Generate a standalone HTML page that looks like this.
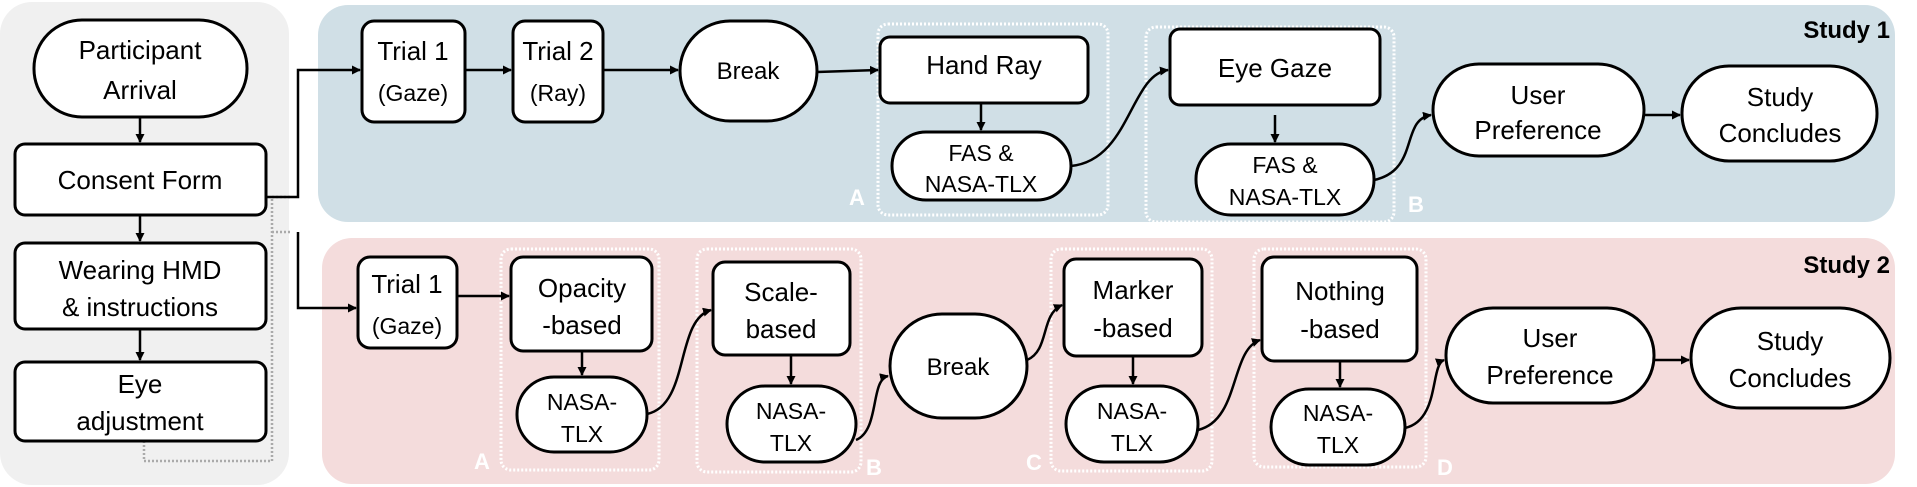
<!DOCTYPE html>
<html><head><meta charset="utf-8"><style>
html,body{margin:0;padding:0;background:#fff;}
svg{display:block;}
text{font-family:"Liberation Sans",sans-serif;fill:#000;}
</style></head><body>
<svg width="1917" height="487" viewBox="0 0 1917 487" xmlns="http://www.w3.org/2000/svg">
<defs>
<marker id="ah" markerWidth="9" markerHeight="9" refX="8" refY="4.5" orient="auto" markerUnits="userSpaceOnUse"><path d="M0,0 L9,4.5 L0,9 Z" fill="#000"/></marker>
</defs>
<rect x="0" y="2" width="289" height="483" rx="32" fill="#f0f0f0"/>
<rect x="318" y="5" width="1577" height="217" rx="30" fill="#d0dfe6"/>
<rect x="322" y="238" width="1573" height="246" rx="30" fill="#f4dcdc"/>
<text x="1890" y="38" text-anchor="end" font-size="24" font-weight="bold">Study 1</text>
<text x="1890" y="273" text-anchor="end" font-size="24" font-weight="bold">Study 2</text>

<g fill="none" stroke="#fff" stroke-width="3" stroke-dasharray="2,2">
<rect x="878" y="24" width="230" height="191" rx="10"/>
<rect x="1146" y="27" width="248" height="195" rx="10"/>
<rect x="501" y="249" width="158" height="221" rx="10"/>
<rect x="697" y="249" width="164" height="223" rx="10"/>
<rect x="1051" y="249" width="161" height="222" rx="10"/>
<rect x="1254" y="249" width="172" height="218" rx="10"/>
</g>
<g font-size="22" font-weight="bold">
<text x="849" y="205" style="fill:#fff">A</text>
<text x="1408" y="212" style="fill:#fff">B</text>
<text x="474" y="469" style="fill:#fff">A</text>
<text x="866" y="475" style="fill:#fff">B</text>
<text x="1026" y="470" style="fill:#fff">C</text>
<text x="1437" y="475" style="fill:#fff">D</text>
</g>

<g fill="none" stroke="#aaa" stroke-width="2.5" stroke-dasharray="2,2">
<path d="M144,441 V461 H272 V197 H290"/>
<path d="M272,232 H290"/>
</g>

<g fill="#fff" stroke="#000" stroke-width="3">
<rect x="34" y="20" width="213" height="97" rx="48"/>
<rect x="15" y="144" width="251" height="71" rx="10"/>
<rect x="15" y="243" width="251" height="86" rx="10"/>
<rect x="15" y="362" width="251" height="79" rx="10"/>

<rect x="362" y="21" width="103" height="101" rx="12"/>
<rect x="513" y="21" width="90" height="101" rx="12"/>
<rect x="680" y="21" width="137" height="100" rx="50"/>
<rect x="880" y="37" width="208" height="66" rx="10"/>
<rect x="892" y="132" width="179" height="68" rx="34"/>
<rect x="1170" y="29" width="210" height="76" rx="10"/>
<rect x="1196" y="144" width="178" height="71" rx="35"/>
<rect x="1433" y="64" width="211" height="92" rx="46"/>
<rect x="1682" y="66" width="195" height="95" rx="47"/>

<rect x="358" y="257" width="99" height="91" rx="12"/>
<rect x="511" y="257" width="141" height="94" rx="12"/>
<rect x="517" y="377" width="130" height="75" rx="37"/>
<rect x="713" y="262" width="137" height="93" rx="12"/>
<rect x="727" y="386" width="129" height="76" rx="38"/>
<rect x="890" y="314" width="137" height="104" rx="52"/>
<rect x="1064" y="259" width="138" height="97" rx="12"/>
<rect x="1066" y="386" width="132" height="76" rx="38"/>
<rect x="1262" y="257" width="155" height="104" rx="12"/>
<rect x="1271" y="389" width="134" height="76" rx="38"/>
<rect x="1446" y="308" width="208" height="95" rx="47"/>
<rect x="1691" y="308" width="199" height="100" rx="50"/>
</g>

<g font-size="26" text-anchor="middle">
<text x="140" y="59">Participant</text><text x="140" y="99">Arrival</text>
<text x="140" y="189">Consent Form</text>
<text x="140" y="279">Wearing HMD</text><text x="140" y="316">&amp; instructions</text>
<text x="140" y="393">Eye</text><text x="140" y="430">adjustment</text>

<text x="413" y="60">Trial 1</text><text x="413" y="101" font-size="23">(Gaze)</text>
<text x="558" y="60">Trial 2</text><text x="558" y="101" font-size="23">(Ray)</text>
<text x="748" y="79" font-size="24">Break</text>
<text x="984" y="74">Hand Ray</text>
<text x="981" y="161" font-size="23">FAS &amp;</text><text x="981" y="192" font-size="23">NASA-TLX</text>
<text x="1275" y="77">Eye Gaze</text>
<text x="1285" y="173" font-size="23">FAS &amp;</text><text x="1285" y="205" font-size="23">NASA-TLX</text>
<text x="1538" y="104">User</text><text x="1538" y="139">Preference</text>
<text x="1780" y="106">Study</text><text x="1780" y="142">Concludes</text>

<text x="407" y="293">Trial 1</text><text x="407" y="334" font-size="23">(Gaze)</text>
<text x="582" y="297">Opacity</text><text x="582" y="334">-based</text>
<text x="582" y="410" font-size="23">NASA-</text><text x="582" y="442" font-size="23">TLX</text>
<text x="781" y="301">Scale-</text><text x="781" y="338">based</text>
<text x="791" y="419" font-size="23">NASA-</text><text x="791" y="451" font-size="23">TLX</text>
<text x="958" y="375" font-size="24">Break</text>
<text x="1133" y="299">Marker</text><text x="1133" y="337">-based</text>
<text x="1132" y="419" font-size="23">NASA-</text><text x="1132" y="451" font-size="23">TLX</text>
<text x="1340" y="300">Nothing</text><text x="1340" y="338">-based</text>
<text x="1338" y="421" font-size="23">NASA-</text><text x="1338" y="453" font-size="23">TLX</text>
<text x="1550" y="347">User</text><text x="1550" y="384">Preference</text>
<text x="1790" y="350">Study</text><text x="1790" y="387">Concludes</text>
</g>

<g fill="none" stroke="#000" stroke-width="2.5" marker-end="url(#ah)">
<path d="M140,117 V142"/>
<path d="M140,215 V241"/>
<path d="M140,329 V360"/>
<path d="M266,197 H298 V70 H360"/>
<path d="M298,232 V308 H356"/>
<path d="M465,70 H511"/>
<path d="M603,70 H678"/>
<path d="M817,72 L878,70"/>
<path d="M981,103 V130"/>
<path d="M1275,115 V142"/>
<path d="M1071,166 C1130,160 1130,75 1168,70"/>
<path d="M1374,180 C1420,170 1400,120 1431,115"/>
<path d="M1644,115 H1680"/>
<path d="M457,296 H509"/>
<path d="M582,351 V375"/>
<path d="M647,414 C690,405 675,320 711,310"/>
<path d="M791,355 V384"/>
<path d="M856,440 C880,430 870,380 888,376"/>
<path d="M1027,360 C1050,350 1040,315 1062,305"/>
<path d="M1133,356 V384"/>
<path d="M1198,430 C1240,420 1230,350 1260,340"/>
<path d="M1340,361 V387"/>
<path d="M1405,428 C1440,420 1430,365 1444,360"/>
<path d="M1654,360 H1689"/>
</g>
</svg>
</body></html>
